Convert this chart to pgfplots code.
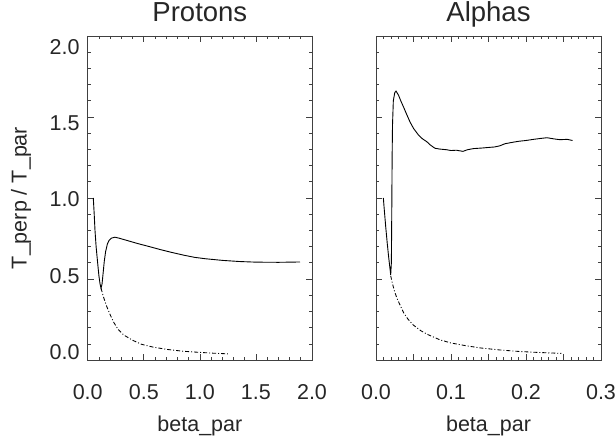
\documentclass[border=0pt]{standalone}
\usepackage{pgfplots}
\pgfplotsset{compat=1.18}
\usepackage{fontspec}
\setmainfont{Liberation Sans}
\begin{document}
\begin{tikzpicture}
\useasboundingbox (0,0) rectangle (616pt,442pt);
\pgfplotsset{
  idl/.style={
    scale only axis,
    anchor=south west,
    height=324pt,
    ymin=0, ymax=2,
    ytick={0,0.5,1,1.5,2},
    minor tick num=4,
    tick pos=both,
    tick align=inside,
    major tick length=6pt,
    minor tick length=3pt,
    axis line style={draw=black!75, line width=0.8pt},
    every tick/.style={draw=black!75, line width=0.6pt},
    /pgf/number format/assume math mode=true,
    /pgf/number format/fixed,
    /pgf/number format/fixed zerofill,
    /pgf/number format/precision=1,
    tick label style={font=\fontsize{21.5}{21.5}\selectfont, inner sep=0pt, text=black!85},
    xticklabel style={anchor=base, yshift=-39pt},
    yticklabel style={anchor=east, xshift=-8pt, yshift={8pt-4.75pt*\ticknum}},
    label style={font=\fontsize{21.5}{21.5}\selectfont, inner sep=0pt, text=black!85},
    xlabel style={at={(axis description cs:0.5,-0.222)}, anchor=base},
    title style={font=\fontsize{27.5}{27.5}\selectfont, inner sep=0pt, text=black!85, at={(axis description cs:0.5,1.0275)}, anchor=base},
    clip=false,
  },
}
% ---------------- Protons ----------------
\begin{axis}[idl,
  at={(87.7pt,82pt)},
  width=224.3pt,
  xmin=0, xmax=2,
  xtick={0,0.5,1,1.5,2},
  title={Protons},
  xlabel={beta\_par},
  ylabel={T\_perp / T\_par},
  ylabel style={at={(axis description cs:-0.297,0.5)}, anchor=center},
]
\addplot[black, line width=0.9pt] coordinates {
(0.05,1.00)(0.058,0.90)(0.065,0.80)(0.075,0.70)(0.089,0.597)(0.10,0.52)(0.11,0.47)(0.119,0.443)
(0.128,0.47)(0.138,0.54)(0.148,0.61)(0.16,0.67)(0.175,0.715)(0.19,0.738)(0.21,0.752)(0.243,0.758)
(0.28,0.752)(0.35,0.738)(0.45,0.718)(0.55,0.700)(0.65,0.681)(0.75,0.664)(0.85,0.648)
(0.95,0.634)(1.05,0.625)(1.2,0.615)(1.35,0.608)(1.5,0.604)(1.7,0.603)(1.893,0.605)
};
\addplot[black, line width=0.85pt, dash pattern=on 4pt off 2pt on 1pt off 2pt] coordinates {
(0.119,0.443)(0.14,0.39)(0.17,0.33)(0.20,0.28)(0.23,0.235)(0.27,0.19)(0.32,0.155)
(0.40,0.122)(0.48,0.097)(0.58,0.080)(0.70,0.066)(0.85,0.054)(1.0,0.047)(1.12,0.042)(1.25,0.038)
};
\end{axis}
% ---------------- Alphas ----------------
\begin{axis}[idl,
  at={(376pt,82pt)},
  width=225pt,
  xmin=0, xmax=0.3,
  xtick={0,0.05,0.1,0.15,0.2,0.25,0.3},
  xticklabels={0.0,,0.1,,0.2,,0.3},
  yticklabels={},
  title={Alphas},
  xlabel={beta\_par},
]
\addplot[black, line width=0.9pt] coordinates {
(0.0098,1.00)(0.011,0.93)(0.013,0.82)(0.015,0.72)(0.017,0.63)(0.019,0.55)(0.0196,0.525)
(0.0205,0.60)(0.021,0.90)(0.0215,1.25)(0.022,1.45)(0.0231,1.60)(0.025,1.65)(0.0267,1.66)
(0.030,1.635)(0.033,1.60)(0.0364,1.565)(0.041,1.515)(0.0453,1.47)(0.050,1.43)(0.0564,1.39)
(0.062,1.365)(0.0676,1.348)(0.073,1.325)(0.0787,1.307)(0.085,1.302)(0.094,1.298)(0.100,1.293)
(0.107,1.295)(0.116,1.288)(0.122,1.298)(0.13,1.305)(0.14,1.308)(0.150,1.312)(0.158,1.315)
(0.165,1.322)(0.172,1.335)(0.18,1.342)(0.19,1.35)(0.2,1.355)(0.21,1.362)(0.22,1.368)
(0.228,1.372)(0.237,1.365)(0.245,1.36)(0.255,1.362)(0.262,1.355)
};
\addplot[black, line width=0.85pt, dash pattern=on 4pt off 2pt on 1pt off 2pt] coordinates {
(0.0196,0.52)(0.022,0.47)(0.025,0.42)(0.028,0.38)(0.032,0.34)(0.037,0.29)(0.043,0.25)
(0.050,0.215)(0.060,0.18)(0.070,0.155)(0.085,0.125)(0.10,0.105)(0.12,0.088)(0.14,0.074)
(0.165,0.062)(0.19,0.053)(0.21,0.048)(0.23,0.044)(0.247,0.041)
};
\end{axis}
\end{tikzpicture}
\end{document}
